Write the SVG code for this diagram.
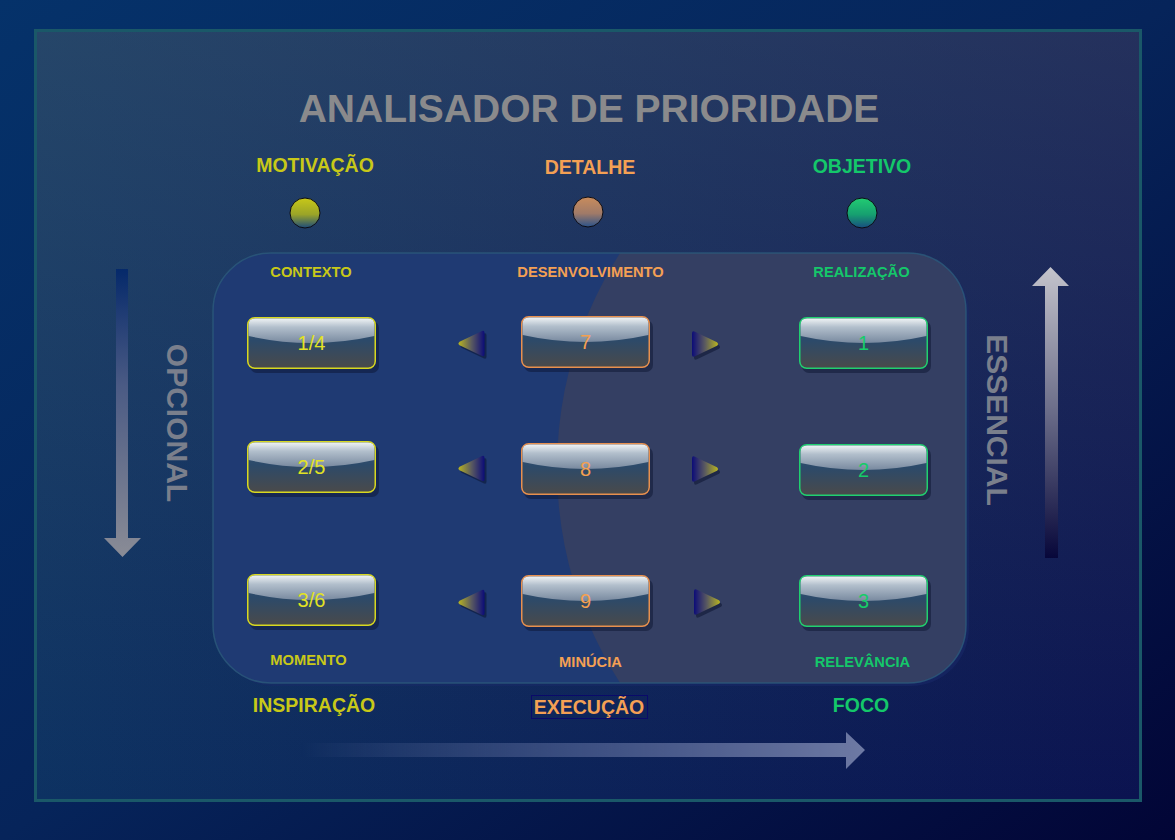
<svg xmlns="http://www.w3.org/2000/svg" xmlns:xlink="http://www.w3.org/1999/xlink" width="1175" height="840" viewBox="0 0 1175 840">
<style>
  text { font-family: "Liberation Sans", Arial, sans-serif; }
  .title { font-size: 39px; font-weight: bold; fill: #8a8a8c; text-anchor: middle; }
  .head { font-size: 19.5px; font-weight: bold; text-anchor: middle; }
  .sub { font-size: 14.7px; font-weight: bold; text-anchor: middle; }
  .num { font-size: 20px; text-anchor: middle; }
  .axis { font-size: 30px; font-weight: bold; fill: #7a7f8c; text-anchor: middle; }
  .y { fill: #c8c818; }
  .o { fill: #f4a054; }
  .g { fill: #14c86a; }
  .ny { fill: #e2e224; }
  .no { fill: #f5a050; }
  .ng { fill: #16cc68; }
  .ball { stroke: #0c0c14; stroke-width: 1; }
</style>
<defs>
  <linearGradient id="bgOuter" x1="0" y1="0" x2="1" y2="1">
    <stop offset="0" stop-color="#05326a"/>
    <stop offset="0.5" stop-color="#06245a"/>
    <stop offset="1" stop-color="#020536"/>
  </linearGradient>
  <linearGradient id="panelBase" x1="0" y1="0" x2="1" y2="0">
    <stop offset="0" stop-color="#0d3262"/>
    <stop offset="1" stop-color="#0b1350"/>
  </linearGradient>
  <linearGradient id="panelTop" x1="0" y1="0" x2="0" y2="1">
    <stop offset="0" stop-color="#5a7078" stop-opacity="0.32"/>
    <stop offset="1" stop-color="#5a7078" stop-opacity="0"/>
  </linearGradient>
  <linearGradient id="btnBase" x1="0" y1="0" x2="0" y2="1">
    <stop offset="0" stop-color="#3a5878"/>
    <stop offset="0.45" stop-color="#2c4a6a"/>
    <stop offset="1" stop-color="#4a4a4a"/>
  </linearGradient>
  <linearGradient id="btnHi" x1="0" y1="0" x2="0" y2="1">
    <stop offset="0" stop-color="#eef2f4"/>
    <stop offset="0.35" stop-color="#b2bfcc"/>
    <stop offset="1" stop-color="#78899f"/>
  </linearGradient>
  <linearGradient id="ballY" x1="0" y1="0" x2="0" y2="1">
    <stop offset="0" stop-color="#c8c818"/>
    <stop offset="0.55" stop-color="#9aa428"/>
    <stop offset="1" stop-color="#1c4a7a"/>
  </linearGradient>
  <linearGradient id="ballO" x1="0" y1="0" x2="0" y2="1">
    <stop offset="0" stop-color="#c98c5c"/>
    <stop offset="0.55" stop-color="#a07a68"/>
    <stop offset="1" stop-color="#2a528a"/>
  </linearGradient>
  <linearGradient id="ballG" x1="0" y1="0" x2="0" y2="1">
    <stop offset="0" stop-color="#22cc72"/>
    <stop offset="0.55" stop-color="#16a070"/>
    <stop offset="1" stop-color="#184c80"/>
  </linearGradient>
  <linearGradient id="triG" x1="0" y1="0" x2="1" y2="0">
    <stop offset="0" stop-color="#b8b420"/>
    <stop offset="0.5" stop-color="#5a5a60"/>
    <stop offset="1" stop-color="#0c0c78"/>
  </linearGradient>
  <linearGradient id="downG" gradientUnits="userSpaceOnUse" x1="0" y1="269" x2="0" y2="557">
    <stop offset="0" stop-color="#05296a"/>
    <stop offset="0.4" stop-color="#4a5a84"/>
    <stop offset="1" stop-color="#8a8c96"/>
  </linearGradient>
  <linearGradient id="upG" gradientUnits="userSpaceOnUse" x1="0" y1="267" x2="0" y2="558">
    <stop offset="0" stop-color="#c4c4cc"/>
    <stop offset="0.5" stop-color="#6a6c88"/>
    <stop offset="1" stop-color="#07073a"/>
  </linearGradient>
  <linearGradient id="rightG" gradientUnits="userSpaceOnUse" x1="300" y1="0" x2="865" y2="0">
    <stop offset="0" stop-color="#6a7aa8" stop-opacity="0"/>
    <stop offset="0.5" stop-color="#5c6c9c" stop-opacity="0.6"/>
    <stop offset="1" stop-color="#6e7aa4"/>
  </linearGradient>
  <clipPath id="rrClip">
    <rect x="213" y="253" width="753" height="430" rx="58"/>
  </clipPath>
  <g id="btn">
    <rect x="3" y="4" width="129" height="52" rx="7" fill="#08122c" opacity="0.45"/>
    <rect x="0.75" y="0.75" width="127.5" height="50.5" rx="7" fill="url(#btnBase)" stroke="currentColor" stroke-width="1.5"/>
    <path d="M1.6 8 Q1.6 1.6 8 1.6 H121 Q127.4 1.6 127.4 8 V19 Q64.5 33 1.6 19 Z" fill="url(#btnHi)"/>
  </g>
  <path id="tri" d="M-12 -1.8 Q-14 0 -12 1.8 L10 12.3 Q13 13.6 13 10.5 L13 -10.5 Q13 -13.6 10 -12.3 Z"/>
</defs>

<!-- background -->
<rect x="0" y="0" width="1175" height="840" fill="url(#bgOuter)"/>
<g id="panel">
  <rect x="35.5" y="30.5" width="1105" height="770" fill="url(#panelBase)" stroke="#1a5868" stroke-width="3"/>
  <rect x="37" y="32" width="1102" height="767" fill="url(#panelTop)"/>
</g>

<!-- central rounded field -->
<g id="field">
  <rect x="216" y="256" width="753" height="430" rx="58" fill="#1a2a6a" opacity="0.5"/>
  <rect x="213" y="253" width="753" height="430" rx="58" fill="#1f3a73"/>
  <circle cx="955" cy="468" r="398" fill="#343f63" clip-path="url(#rrClip)"/>
  <rect x="213" y="253" width="753" height="430" rx="58" fill="none" stroke="#2c5a7c" stroke-width="1.5" opacity="0.8"/>
</g>

<g id="title">
  <text class="title" x="589" y="122">ANALISADOR DE PRIORIDADE</text>
</g>

<g id="col-motivacao">
  <text class="head y" x="315" y="172">MOTIVAÇÃO</text>
  <circle class="ball" cx="305" cy="213" r="15" fill="url(#ballY)"/>
  <text class="sub y" x="311" y="277">CONTEXTO</text>
  <text class="sub y" x="308.5" y="665">MOMENTO</text>
  <text class="head y" x="314" y="712">INSPIRAÇÃO</text>
</g>
<g id="col-detalhe">
  <text class="head o" x="590" y="174">DETALHE</text>
  <circle class="ball" cx="588" cy="212" r="15" fill="url(#ballO)"/>
  <text class="sub o" x="590.5" y="277">DESENVOLVIMENTO</text>
  <text class="sub o" x="590.5" y="667">MINÚCIA</text>
  <rect x="531.5" y="695.5" width="116" height="23" fill="none" stroke="#0a0a6a" stroke-width="1"/>
  <text class="head o" x="589" y="714">EXECUÇÃO</text>
</g>
<g id="col-objetivo">
  <text class="head g" x="862" y="173">OBJETIVO</text>
  <circle class="ball" cx="862" cy="213" r="15" fill="url(#ballG)"/>
  <text class="sub g" x="861.5" y="277">REALIZAÇÃO</text>
  <text class="sub g" x="862.5" y="667">RELEVÂNCIA</text>
  <text class="head g" x="861" y="712">FOCO</text>
</g>

<g id="axis-opcional">
  <text class="axis" transform="translate(167 423) rotate(90)">OPCIONAL</text>
</g>
<g id="axis-essencial">
  <text class="axis" transform="translate(987 420) rotate(90)">ESSENCIAL</text>
</g>

<!-- buttons -->
<g id="btn-1-4"><use href="#btn" x="247" y="317" color="#d8d820"/><text class="num ny" x="311.5" y="350">1/4</text></g>
<g id="btn-7"><use href="#btn" x="521" y="316" color="#e8904e"/><text class="num no" x="585.5" y="349">7</text></g>
<g id="btn-1"><use href="#btn" x="799" y="317" color="#20d070"/><text class="num ng" x="863.5" y="350">1</text></g>
<g id="btn-2-5"><use href="#btn" x="247" y="441" color="#d8d820"/><text class="num ny" x="311.5" y="474">2/5</text></g>
<g id="btn-8"><use href="#btn" x="521" y="443" color="#e8904e"/><text class="num no" x="585.5" y="476">8</text></g>
<g id="btn-2"><use href="#btn" x="799" y="444" color="#20d070"/><text class="num ng" x="863.5" y="477">2</text></g>
<g id="btn-3-6"><use href="#btn" x="247" y="574" color="#d8d820"/><text class="num ny" x="311.5" y="607">3/6</text></g>
<g id="btn-9"><use href="#btn" x="521" y="575" color="#e8904e"/><text class="num no" x="585.5" y="608">9</text></g>
<g id="btn-3"><use href="#btn" x="799" y="575" color="#20d070"/><text class="num ng" x="863.5" y="608">3</text></g>

<!-- connectors -->
<g id="connectors">
  <g fill="#08102c" opacity="0.5">
    <use href="#tri" transform="translate(473.5 346)"/>
    <use href="#tri" transform="translate(473.5 471)"/>
    <use href="#tri" transform="translate(473.5 605)"/>
    <use href="#tri" transform="translate(707 347) scale(-1 1)"/>
    <use href="#tri" transform="translate(707 472) scale(-1 1)"/>
    <use href="#tri" transform="translate(709 605) scale(-1 1)"/>
  </g>
  <g fill="url(#triG)">
    <use href="#tri" transform="translate(471.5 343.5)"/>
    <use href="#tri" transform="translate(471.5 468.5)"/>
    <use href="#tri" transform="translate(471.5 602.5)"/>
    <use href="#tri" transform="translate(705 344) scale(-1 1)"/>
    <use href="#tri" transform="translate(705 469) scale(-1 1)"/>
    <use href="#tri" transform="translate(707 602) scale(-1 1)"/>
  </g>
  <path d="M116 269 H128 V538 H141 L122.5 557 L104 538 H116 Z" fill="url(#downG)"/>
  <path d="M1045 558 V286 H1032 L1050.5 267 L1069 286 H1058 V558 Z" fill="url(#upG)"/>
  <path d="M300 743 H846 V732 L865 750 L846 769 V757 H300 Z" fill="url(#rightG)"/>
</g>
</svg>
